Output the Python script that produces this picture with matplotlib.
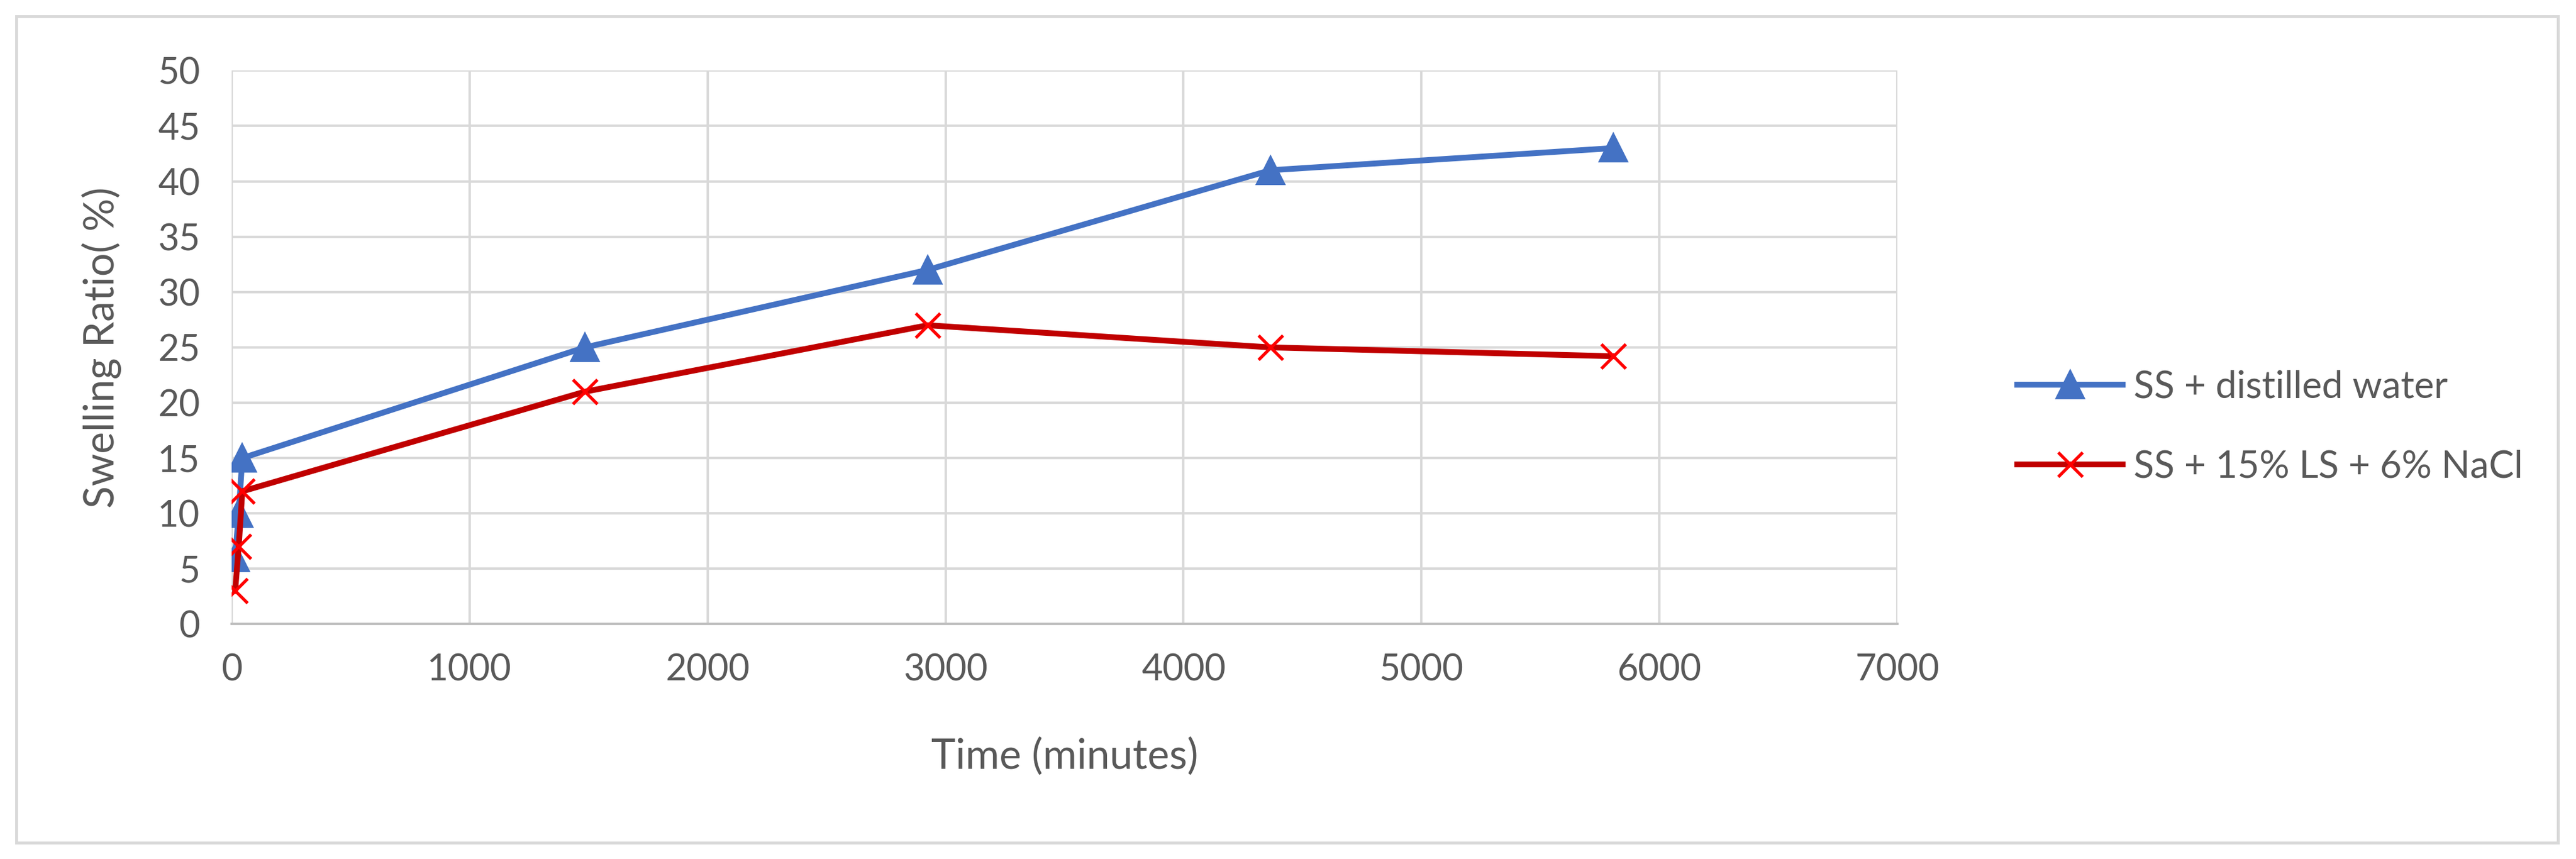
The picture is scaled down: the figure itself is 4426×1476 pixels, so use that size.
import matplotlib
matplotlib.use("Agg")
import matplotlib.pyplot as plt
from matplotlib.patches import Rectangle

# ── Datos ────────────────────────────────────────────────────────────────
time_water = [15, 30, 45, 1485, 2925, 4365, 5805]
swell_water = [6, 10, 15, 25, 32, 41, 43]

time_nacl = [15, 30, 45, 1485, 2925, 4365, 5805]
swell_nacl = [3, 7, 12, 21, 27, 25, 24.2]

labels = ["SS + distilled water", "SS + 15% LS + 6% NaCl"]
x_ticks = [0, 1000, 2000, 3000, 4000, 5000, 6000, 7000]
y_ticks = [0, 5, 10, 15, 20, 25, 30, 35, 40, 45, 50]

plt.rcParams["font.family"] = ["Lato", "DejaVu Sans"]
txt = "#595959"
grid_c = "#D9D9D9"

fig = plt.figure(figsize=(4426 / 300, 1476 / 300), dpi=300)
ax = fig.add_axes([0.0899, 0.2734, 0.7366 - 0.0899, 0.9178 - 0.2734])

ax.plot(time_water, swell_water, color="#4472C4", lw=2.4, marker="^",
        markersize=11, markerfacecolor="#4472C4", markeredgecolor="#4472C4",
        label=labels[0], zorder=3)
ax.plot(time_nacl, swell_nacl, color="#C00000", lw=2.4, marker="x",
        markersize=10, markeredgewidth=1.3, markeredgecolor="#FF0000",
        label=labels[1], zorder=4)

ax.set_xlim(0, 7000)
ax.set_ylim(0, 50)
ax.set_xticks(x_ticks)
ax.set_yticks(y_ticks)
ax.grid(True, color=grid_c, lw=1.0, zorder=0)
ax.tick_params(length=0, labelsize=15, colors=txt)
ax.tick_params(axis="y", pad=13)
ax.tick_params(axis="x", pad=12)
for s in ["top", "right", "left"]:
    ax.spines[s].set_visible(False)
ax.spines["bottom"].set_color("#BFBFBF")
ax.spines["bottom"].set_linewidth(1.0)

ax.set_xlabel("Time (minutes)", fontsize=17, color=txt)
ax.set_ylabel("Swelling Ratio( %)", fontsize=17, color=txt)
ax.xaxis.set_label_coords(0.5, -0.205)
ax.yaxis.set_label_coords(-0.066, 0.5)

fig.legend(loc="center left", bbox_to_anchor=(0.770, 0.503), frameon=False,
           fontsize=15.5, handlelength=2.8, handletextpad=0.3,
           labelspacing=1.2, labelcolor=txt)

fig.patches.append(Rectangle((0.0064, 0.019), 0.9866, 0.962,
                             transform=fig.transFigure, fill=False,
                             edgecolor=grid_c, lw=1.2))

fig.savefig("out.png", dpi=300, facecolor="white")
